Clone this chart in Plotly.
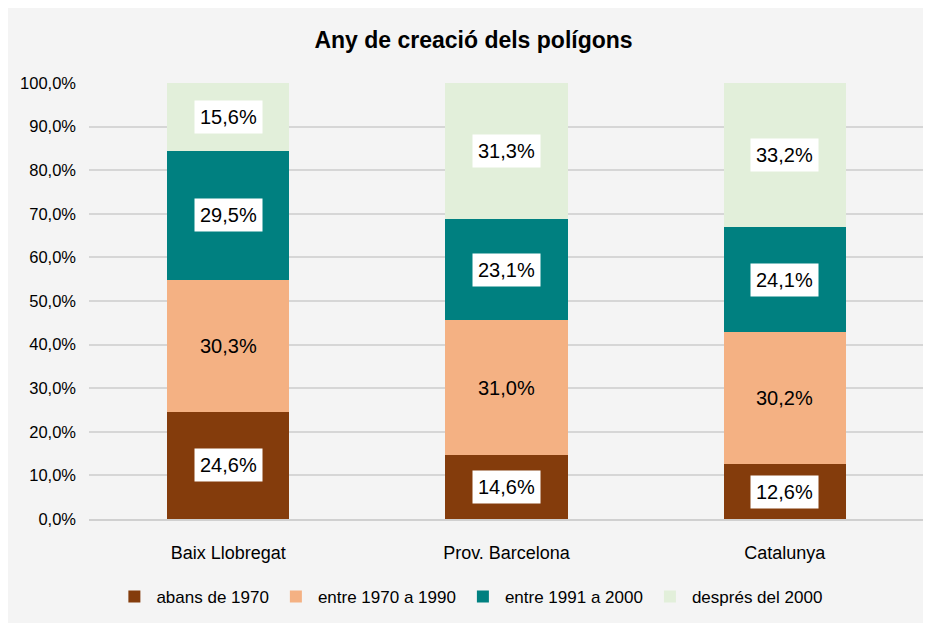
import plotly.graph_objects as go

categories = ["Baix Llobregat", "Prov. Barcelona", "Catalunya"]
series_names = ["abans de 1970", "entre 1970 a 1990", "entre 1991 a 2000", "després del 2000"]
abans_1970 = [24.6, 14.6, 12.6]
entre_1970_1990 = [30.3, 31.0, 30.2]
entre_1991_2000 = [29.5, 23.1, 24.1]
despres_2000 = [15.6, 31.3, 33.2]
tick_values = [0, 10, 20, 30, 40, 50, 60, 70, 80, 90, 100]
tick_labels = ["0,0%", "10,0%", "20,0%", "30,0%", "40,0%", "50,0%", "60,0%", "70,0%", "80,0%", "90,0%", "100,0%"]

series = [abans_1970, entre_1970_1990, entre_1991_2000, despres_2000]
colors = ["#843c0c", "#f4b183", "#008080", "#e2efda"]
boxed = [True, False, True, True]

FONT = "Liberation Sans Narrow, Arial Narrow, Liberation Sans, Arial, sans-serif"

fig = go.Figure()
for name, vals, col in zip(series_names, series, colors):
    fig.add_trace(go.Bar(x=categories, y=vals, name=name, marker=dict(color=col, line=dict(width=0)),
                         width=0.44))

annotations = []
for si, vals in enumerate(series):
    for ci, cat in enumerate(categories):
        base = sum(series[k][ci] for k in range(si))
        mid = base + vals[ci] / 2
        txt = f"{vals[ci]:.1f}%".replace(".", ",")
        annotations.append(dict(x=cat, y=mid, xref="x", yref="y", text=txt, showarrow=False,
                                font=dict(family=FONT, size=20, color="#000000"),
                                bgcolor="#ffffff" if boxed[si] else "rgba(0,0,0,0)",
                                borderpad=5))

fig.update_layout(
    barmode="stack",
    bargap=0,
    width=931, height=623,
    paper_bgcolor="#f4f4f4",
    plot_bgcolor="#f4f4f4",
    margin=dict(l=81, r=15, t=75, b=112),
    title=dict(text="<b>Any de creació dels polígons</b>", x=0.5, xanchor="center", y=0.949, yanchor="middle",
               font=dict(family=FONT, size=23, color="#000000")),
    font=dict(family=FONT, color="#000000"),
    xaxis=dict(tickfont=dict(family=FONT, size=18, color="#000000"), showgrid=False,
               showline=True, linecolor="#d0d0d0", linewidth=2, ticks="", ticklabelstandoff=16),
    yaxis=dict(range=[0, 100], tickvals=tick_values, ticktext=tick_labels,
               tickfont=dict(family=FONT, size=16.5, color="#000000"),
               showgrid=True, gridcolor="#d6d6d6", gridwidth=2, zeroline=False,
               showline=False, ticks="", ticklabelstandoff=12),
    legend=dict(orientation="h", x=0.028, xanchor="left", y=-0.179, yanchor="middle",
                font=dict(family=FONT, size=17, color="#000000"), traceorder="normal",
                itemwidth=34, bgcolor="rgba(0,0,0,0)"),
    annotations=annotations,
)

fig.write_html("out.html")
